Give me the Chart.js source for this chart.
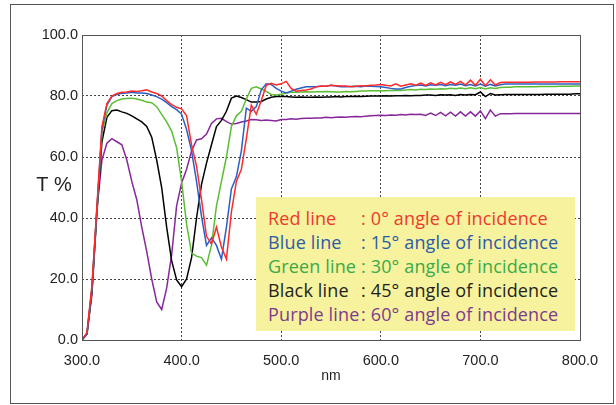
<!DOCTYPE html>
<html>
<head>
<meta charset="utf-8">
<title>Transmittance vs angle of incidence</title>
<script src="https://cdn.jsdelivr.net/npm/chart.js@4"></script>
<style>
  body { margin: 0; background: #fff; }
  #wrap { position: relative; width: 616px; height: 405px; }
  #frame {
    position: absolute; left: 10px; top: 4px; width: 602px; height: 398px;
    border: 1px solid #555; pointer-events: none;
  }
  #key {
    position: absolute; left: 256px; top: 197px; width: 319px; height: 134px;
    box-sizing: border-box; padding: 9px 0 0 12px;
    background: #f6f29d;
    font-family: "Open Sans", "Noto Sans", sans-serif; font-size: 18px; line-height: 24px;
    white-space: nowrap; letter-spacing: 0.15px;
  }
  #key .name { display: inline-block; width: 93px; }
</style>
</head>
<body>
<div id="wrap">
  <canvas id="spectrum" width="616" height="405"></canvas>
  <div id="frame"></div>
  <div id="key"></div>
</div>
<script>
// wavelength grid, nm (5 nm steps)
const wavelengths = [];
for (let w = 300; w <= 800; w += 5) wavelengths.push(w);

const xTicks = [300, 400, 500, 600, 700, 800];
const yTicks = [0, 20, 40, 60, 80, 100];

// transmittance (%) for each angle of incidence
const red0 = [
  0, 2.5, 18, 44, 70, 77.5, 80, 80.8, 81.2, 81.3,
  81.6, 81.5, 81.7, 82, 81.3, 80.8, 80, 78.5, 77.2, 76.3,
  75.8, 73.5, 64, 57, 46, 34, 31.5, 37, 30.5, 26.5,
  42, 52, 56, 66, 77, 74, 78.5, 83.5, 84.2, 83.6,
  84, 84.8, 82.5, 81.6, 81.8, 82, 82.3, 83, 83.3, 83.2,
  83.5, 83.4, 83.3, 83.3, 83, 83.2, 83.4, 83.3, 83.5, 83.6,
  83.8, 83.5, 83.3, 84, 83.2, 83.6, 84, 83.5, 84.2, 83.5,
  84.3, 83.6, 84.5, 83.7, 84.6, 83.8, 84.8, 83.6, 85.2, 83.5,
  85.5, 83.4, 85.3, 83.6, 84.4, 84.5, 84.5, 84.5, 84.5, 84.5,
  84.5, 84.6, 84.6, 84.6, 84.6, 84.6, 84.7, 84.7, 84.7, 84.7,
  84.7
];
const blue15 = [
  0, 2, 17, 43, 69, 77, 79.8, 80.5, 80.9, 81,
  81.2, 81, 81, 80.8, 80.3, 79.8, 79, 77.8, 76.5, 75.5,
  74, 69, 62, 52, 40.5, 31, 33.5, 31, 26.5, 37,
  49.5, 53.5, 62, 76, 75, 76.5, 82, 84, 83.8, 82.5,
  81.6, 81, 81.6, 82.2, 82.6, 83, 83, 83, 83.2, 83.2,
  83.5, 83.3, 83, 83, 83.1, 83.2, 83, 83.3, 83.2, 83.1,
  83, 82.8, 82.5, 82.3, 82.3, 82.8, 83.2, 83.4, 83.6, 83.3,
  83.7, 83.5, 83.8, 83.4, 83.8, 83.5, 83.9, 83.4, 83.8, 83.3,
  83.9, 83.2, 83.8, 83.3, 83.7, 83.9, 83.9, 83.9, 83.9, 83.9,
  83.9, 83.9, 83.9, 83.9, 83.9, 83.9, 83.9, 83.9, 83.9, 83.9,
  83.9
];
const green30 = [
  0, 2.2, 17, 43, 68, 74.5, 77.5, 78.5, 79, 79.2,
  79.3, 79, 78.6, 78, 77.8, 76.5, 74, 71.5, 68.5, 63,
  52, 38, 28.5, 27.5, 27, 24.5, 31, 44, 52, 60,
  70, 73.5, 75, 79, 82.5, 83, 82.3, 81.5, 80.5, 80.3,
  80.6, 81, 81.2, 81.2, 81.3, 81.4, 81.3, 81.4, 81.4, 81.5,
  81.4, 81.3, 81.3, 81.5, 81.4, 81.5, 81.6, 81.6, 81.7, 81.7,
  81.7, 81.7, 81.8, 81.9, 81.8, 82, 82.1, 82, 82.2, 82.1,
  82.3, 82.2, 82.4, 82.3, 82.5, 82.4, 82.6, 82.4, 82.7, 82.4,
  82.8, 82.3, 82.7, 82.5, 82.8, 82.9, 82.9, 83, 83, 83,
  83, 83, 83.1, 83.1, 83.1, 83.1, 83.2, 83.2, 83.2, 83.3,
  83.3
];
const black45 = [
  0, 2, 16, 42, 65, 73, 75.2, 75.4, 74.8, 74.3,
  73.5, 72.5, 71.5, 70, 66.5, 59, 50, 37, 26, 19.7,
  17.5, 20, 27, 40, 51, 58, 64, 70, 72, 75,
  79.3, 80, 79.5, 78.8, 78, 78, 78.2, 79, 79.6, 79.8,
  79.8, 79.8, 79.7, 79.6, 79.7, 79.6, 79.6, 79.7, 79.6, 79.7,
  79.7, 79.8, 79.7, 79.8, 79.8, 79.9, 79.8, 79.9, 80, 80,
  80, 80.1, 80, 80.1, 80.1, 80.2, 80.1, 80.2, 80.2, 80.3,
  80.3, 80.2, 80.4, 80.3, 80.4, 80.2, 80.5, 80.3, 80.5, 80.4,
  81.3, 79.8, 80.8, 80.3, 80.4, 80.5, 80.5, 80.5, 80.5, 80.5,
  80.5, 80.5, 80.5, 80.6, 80.6, 80.6, 80.6, 80.6, 80.6, 80.7,
  80.7
];
const purple60 = [
  0, 2, 15, 43, 59, 64.5, 66, 65, 64, 59,
  52, 46, 37, 29, 20, 12.5, 10, 17, 28, 44,
  51.5, 56, 62, 65.6, 66, 67.5, 71, 72.5, 72.7, 71.6,
  70.8, 71, 71.5, 71.8, 72.3, 72.2, 72, 72.1, 72, 71.8,
  72.3, 72.3, 72.5, 72.4, 72.6, 72.7, 72.7, 72.8, 72.8, 73,
  72.9, 73, 73.1, 73, 73.2, 73.3, 73.2, 73.4, 73.5, 73.6,
  73.7, 73.6, 73.8, 73.7, 73.9, 73.8, 74, 73.9, 74, 73.6,
  74.4, 73.6, 74.6, 73.5, 74.7, 73.4, 74.8, 73.4, 74.8, 73.4,
  75.1, 72.6, 75.4, 73.4, 74.2, 74.2, 74.2, 74.3, 74.3, 74.3,
  74.3, 74.3, 74.3, 74.3, 74.3, 74.3, 74.3, 74.3, 74.3, 74.3,
  74.3
];

const seriesNames = ["Red line", "Blue line", "Green line", "Black line", "Purple line"];
const seriesAngles = ["0°", "15°", "30°", "45°", "60°"];
const lineColors = ["#ff2a2a", "#2a5fc4", "#5cbd34", "#000000", "#87289a"];
const textColors = ["#ee3a2e", "#2d5ba8", "#3aaa48", "#231f20", "#7e3b8f"];

const allSeries = [red0, blue15, green30, black45, purple60];

function toPoints(values) {
  return wavelengths.map((w, i) => ({ x: w, y: values[i] }));
}

// red/blue drawn last so they sit on top
const datasets = allSeries.map((vals, i) => ({
  label: seriesNames[i],
  data: toPoints(vals),
  borderColor: lineColors[i],
  borderWidth: 1.5,
  pointRadius: 0,
  tension: 0,
  order: i
}));

// solid frame round the plot and the horizontal "T %" axis label
const plotFrame = {
  id: "plotFrame",
  afterDatasetsDraw(chart) {
    const { ctx, chartArea: a } = chart;
    ctx.save();
    ctx.strokeStyle = "#555";
    ctx.lineWidth = 1;
    ctx.strokeRect(Math.round(a.left) + 0.5, Math.round(a.top) + 0.5,
      Math.round(a.right - a.left), Math.round(a.bottom - a.top));
    ctx.font = '20px "Liberation Sans", Arial, sans-serif';
    ctx.fillStyle = "#222";
    ctx.textAlign = "center";
    ctx.textBaseline = "middle";
    ctx.fillText("T %", 54, 185);
    ctx.restore();
  }
};

const edgeClear = (ctx, lo, hi) =>
  ctx.tick && (ctx.tick.value === lo || ctx.tick.value === hi) ? "rgba(0,0,0,0)" : "#444";

const tickFont = { family: "Liberation Sans, Arial, sans-serif", size: 14.5 };

new Chart(document.getElementById("spectrum"), {
  type: "line",
  data: { datasets },
  plugins: [plotFrame],
  options: {
    responsive: false,
    animation: false,
    layout: { padding: { top: 35, right: 36, left: 0, bottom: 0 } },
    plugins: { legend: { display: false }, tooltip: { enabled: false } },
    scales: {
      x: {
        type: "linear",
        min: xTicks[0],
        max: xTicks[xTicks.length - 1],
        afterBuildTicks: scale => { scale.ticks = xTicks.map(v => ({ value: v })); },
        afterFit: scale => { scale.height = 65; },
        grid: { color: c => edgeClear(c, 300, 800), drawTicks: false, lineWidth: 1 },
        border: { display: false, dash: [2, 2] },
        ticks: { color: "#222", font: tickFont, padding: 12, maxRotation: 0,
          callback: v => v.toFixed(1) },
        title: { display: true, text: "nm", color: "#222",
          font: { family: "Liberation Sans, Arial, sans-serif", size: 14 },
          padding: { top: 0, bottom: 20 } }
      },
      y: {
        min: yTicks[0],
        max: yTicks[yTicks.length - 1],
        afterBuildTicks: scale => { scale.ticks = yTicks.map(v => ({ value: v })); },
        afterFit: scale => { scale.width = 82; },
        grid: { color: c => edgeClear(c, 0, 100), drawTicks: false, lineWidth: 1 },
        border: { display: false, dash: [2, 2] },
        ticks: { color: "#222", font: tickFont, padding: 4, callback: v => v.toFixed(1) }
      }
    }
  }
});

// the angle key in the yellow panel
const key = document.getElementById("key");
seriesNames.forEach((name, i) => {
  const row = document.createElement("div");
  row.style.color = textColors[i];
  row.innerHTML = '<span class="name">' + name + "</span>: " + seriesAngles[i] + " angle of incidence";
  key.appendChild(row);
});
</script>
</body>
</html>
